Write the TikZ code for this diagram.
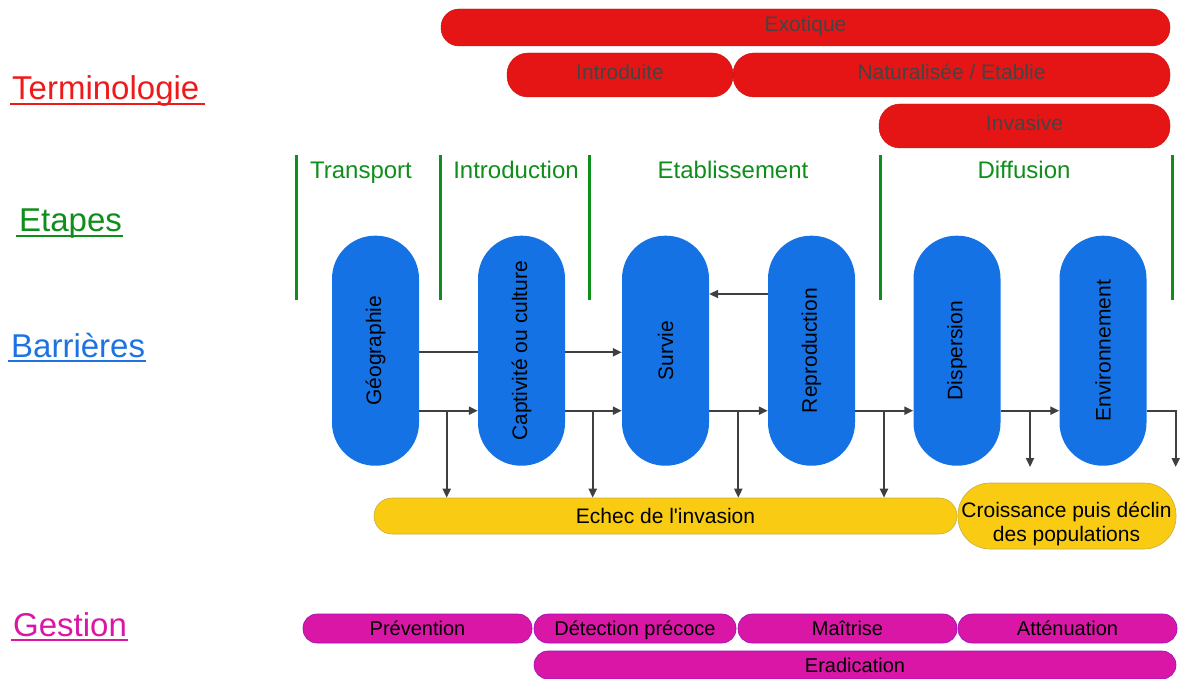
\documentclass[tikz,border=0pt]{standalone}
\usepackage{fontspec}
\newfontfamily\lib{Liberation Sans}
\usetikzlibrary{arrows.meta}
\pgfdeclarelayer{bg}
\pgfsetlayers{bg,main}
\definecolor{barred}{HTML}{E61515}
\definecolor{labred}{HTML}{EE1A1A}
\definecolor{bartext}{HTML}{444444}
\definecolor{stgreen}{HTML}{0E8E1A}
\definecolor{pillblue}{HTML}{1472E4}
\definecolor{labblue}{HTML}{1E73E0}
\definecolor{failyel}{HTML}{F9CC13}
\definecolor{mgmt}{HTML}{D916A6}
\definecolor{arrc}{HTML}{3C4043}
\begin{document}
\begin{tikzpicture}[x=1pt,y=-1pt,
  termbar/.style={fill=barred, draw=barred!85!black, line width=0.4pt, inner sep=0pt,
    text=bartext, text height=15pt, text depth=6pt, font=\lib\fontsize{21}{25}\selectfont},
  stagetxt/.style={text=stgreen, anchor=base, inner sep=0pt, font=\lib\fontsize{24}{28}\selectfont},
  stageline/.style={draw=stgreen, line width=3pt},
  rowlab/.style={anchor=base west, inner sep=0pt, font=\lib\fontsize{33}{38}\selectfont},
  barrier/.style={fill=pillblue, draw=none, rounded corners=43pt, minimum width=87pt,
    minimum height=230pt, inner sep=0pt, font=\lib\fontsize{21}{25}\selectfont},
  fail/.style={fill=failyel, draw=failyel!60!gray, line width=0.6pt, inner sep=0pt,
    font=\lib\fontsize{21}{24}\selectfont},
  mgbar/.style={fill=mgmt, draw=mgmt!70!blue, line width=0.6pt, inner sep=0pt,
    rounded corners=14pt, minimum height=29pt, text height=14.5pt, text depth=0.5pt,
    font=\lib\fontsize{20}{24}\selectfont},
  arr/.style={draw=arrc, line width=2pt, -{Triangle[length=9pt,width=8pt]}}
]
\useasboundingbox (0,0) rectangle (1180,679);

% Terminologie bars
\node[termbar, minimum width=729pt, minimum height=37pt, rounded corners=18pt] (exo) at (805.5,27.5) {Exotique};
\node[termbar, minimum width=226pt, minimum height=44pt, rounded corners=21pt] (intro) at (620,75) {Introduite};
\node[termbar, minimum width=437pt, minimum height=44pt, rounded corners=21pt] (nat) at (951.5,75) {Naturalisée / Etablie};
\node[termbar, minimum width=291pt, minimum height=44pt, rounded corners=21pt] (inv) at (1024.5,126) {Invasive};

% Row labels
\node[rowlab, text=labred] (term) at (12,99.5) {Terminologie};
\draw[labred, line width=2pt] ([xshift=-2pt,yshift=-5pt]term.base west) -- ([xshift=6pt,yshift=-5pt]term.base east);
\node[rowlab, text=stgreen] (etap) at (19,231.7) {Etapes};
\draw[stgreen, line width=2pt] ([xshift=-3pt,yshift=-4.5pt]etap.base west) -- ([xshift=1pt,yshift=-4.5pt]etap.base east);
\node[rowlab, text=labblue] (barr) at (11,357.7) {Barrières};
\draw[labblue, line width=2pt] ([xshift=-3pt,yshift=-3.5pt]barr.base west) -- ([xshift=1pt,yshift=-3.5pt]barr.base east);
\node[rowlab, text=mgmt] (gest) at (13,636) {Gestion};
\draw[mgmt, line width=2pt] ([xshift=-2pt,yshift=-4pt]gest.base west) -- ([xshift=1pt,yshift=-4pt]gest.base east);

% Stage separators and labels
\draw[stageline] (296,155) -- (296,300);
\draw[stageline] (440,155) -- (440,300);
\draw[stageline] (589,155) -- (589,300);
\draw[stageline] (880,155) -- (880,300);
\draw[stageline] (1172,155) -- (1172,300);
\node[stagetxt] (s1) at (361,178.5) {Transport};
\node[stagetxt] (s2) at (516,178.5) {Introduction};
\node[stagetxt] (s3) at (733,178.5) {Etablissement};
\node[stagetxt] (s4) at (1024,178.5) {Diffusion};

% Barriers
\node[barrier] (geo) at (375.5,350.7) {\rotatebox{90}{Géographie}};
\node[barrier] (cap) at (521.5,350.7) {\rotatebox{90}{Captivité ou culture}};
\node[barrier] (surv) at (665.5,350.7) {\rotatebox{90}{Survie}};
\node[barrier] (repro) at (811.5,350.7) {\rotatebox{90}{Reproduction}};
\node[barrier] (disp) at (957,350.7) {\rotatebox{90}{Dispersion}};
\node[barrier] (env) at (1103,350.7) {\rotatebox{90}{Environnement}};

% Outcomes
\node[fail, minimum width=583pt, minimum height=36pt, rounded corners=18pt] (echec) at (665.5,516) {Echec de l'invasion};
\node[fail, minimum width=218pt, minimum height=66pt, rounded corners=32pt] (crois) at (1067,516) {};
\node[inner sep=0pt, align=center, font=\lib\fontsize{21}{24}\selectfont] (croistxt) at (1066.5,524) {Croissance puis déclin\\des populations};

% Management
\node[mgbar, minimum width=229pt] (prev) at (417.5,628.5) {Prévention};
\node[mgbar, minimum width=202pt] (detec) at (635,628.5) {Détection précoce};
\node[mgbar, minimum width=219pt] (mait) at (847.5,628.5) {Maîtrise};
\node[mgbar, minimum width=219pt] (att) at (1067.5,628.5) {Atténuation};
\node[mgbar, minimum width=642pt, minimum height=28pt] (erad) at (855,665) {Eradication};

% Connectors
\coordinate (hi) at (0,352.3);
\coordinate (lo) at (0,410.7);
\coordinate (fb) at (0,294);
\coordinate (b1) at (446.7,410.7);
\coordinate (b2) at (592.7,410.7);
\coordinate (b3) at (738.3,410.7);
\coordinate (b4) at (884,410.7);
\coordinate (b5) at (1030,410.7);
\coordinate (e5) at (1030,467);
\coordinate (e6) at (1175.7,467);
\begin{pgfonlayer}{bg}
\draw[arr] (geo.east |- hi) -- (surv.west |- hi);
\end{pgfonlayer}
\draw[arr] (geo.east |- lo) -- (cap.west |- lo);
\draw[arr] (cap.east |- lo) -- (surv.west |- lo);
\draw[arr] (surv.east |- lo) -- (repro.west |- lo);
\draw[arr] (repro.east |- lo) -- (disp.west |- lo);
\draw[arr] (disp.east |- lo) -- (env.west |- lo);
\draw[arr] (repro.west |- fb) -- (surv.east |- fb);
\draw[arr] (b1) -- (b1 |- echec.north);
\draw[arr] (b2) -- (b2 |- echec.north);
\draw[arr] (b3) -- (b3 |- echec.north);
\draw[arr] (b4) -- (b4 |- echec.north);
\draw[arr] (b5) -- (e5);
\draw[arr] (env.east |- lo) -| (e6);
\end{tikzpicture}
\end{document}
